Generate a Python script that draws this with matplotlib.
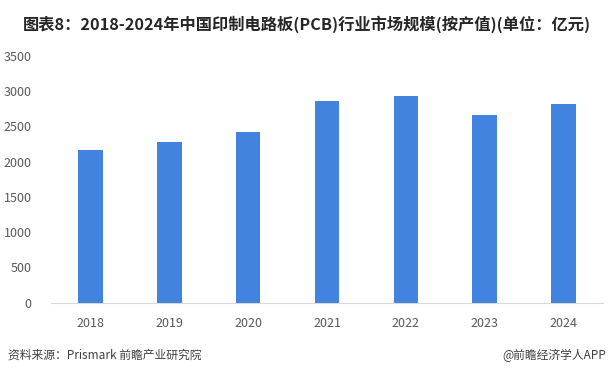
import numpy as np
import matplotlib
matplotlib.use("Agg")
import matplotlib.pyplot as plt

plt.rcParams['font.family'] = ['Noto Sans CJK SC', 'DejaVu Sans']

# data
years = ["2018", "2019", "2020", "2021", "2022", "2023", "2024"]
values = [2165, 2277, 2419, 2858, 2929, 2660, 2816]
yticks = [0, 500, 1000, 1500, 2000, 2500, 3000, 3500]

fig = plt.figure(figsize=(6.14, 3.76), dpi=100)
ax = fig.add_axes([51 / 614, 1 - 302.7 / 376, 552 / 614, 247 / 376])

x = np.arange(len(years))
ax.bar(x, values, width=0.31, color="#4183de", zorder=2)

ax.set_xlim(-0.5, len(years) - 0.5)
ax.set_ylim(0, 3500)
ax.set_yticks(yticks)
ax.set_xticks(x)
ax.set_xticklabels(years)

for s in ["top", "right", "left"]:
    ax.spines[s].set_visible(False)
ax.spines["bottom"].set_color("#d9d9d9")
ax.tick_params(axis="both", length=0, labelsize=9, labelcolor="#595959")
ax.tick_params(axis="y", pad=14)
ax.tick_params(axis="x", pad=10)

fig.text(0.5, 1 - 24 / 376, "图表8：2018-2024年中国印制电路板(PCB)行业市场规模(按产值)(单位：亿元)",
         ha="center", va="center", fontsize=11.7, fontweight="bold", color="#262626")

fig.text(8 / 614, 1 - 355 / 376, "资料来源：Prismark 前瞻产业研究院",
         ha="left", va="center", fontsize=8.5, color="#404040")
fig.text(606 / 614, 1 - 355 / 376, "@前瞻经济学人APP",
         ha="right", va="center", fontsize=8.5, color="#404040")

fig.savefig("out.png", dpi=100)
